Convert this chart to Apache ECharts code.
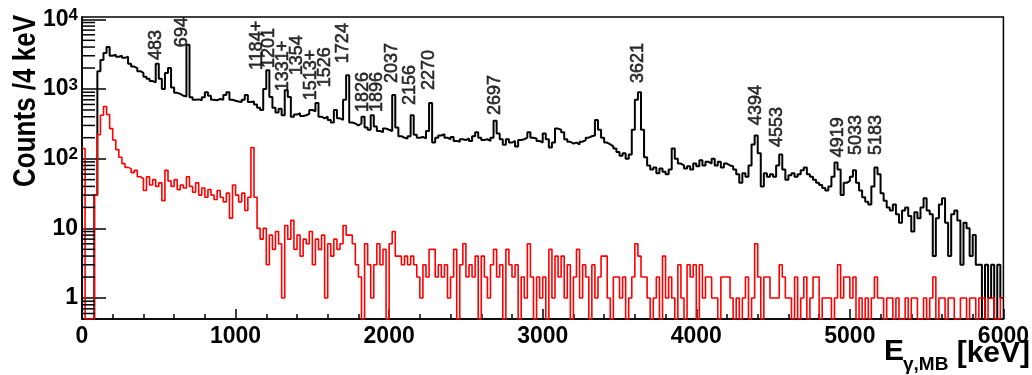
<!DOCTYPE html>
<html><head><meta charset="utf-8">
<script src="https://cdn.jsdelivr.net/npm/echarts@6/dist/echarts.min.js"></script>
<style>html,body{margin:0;padding:0;background:#fff}#c{width:1032px;height:375px}</style>
</head><body><div id="c"></div>
<script>
// ---- data ----
const binWidth = 20; // keV per stored bin (low edge = index*binWidth)
const blackCounts = [
0,0,0,0,30,1800,2600,3300,4000,3000,3100,2900,3000,2800,2900,2300,2100,2000,1800,1700,
1500,1400,1300,1250,2300,1400,1000,1700,2000,1050,880,850,800,780,4300,760,700,710,690,760,
900,800,700,690,720,700,820,900,700,680,660,650,700,820,650,660,600,540,500,1000,
1860,770,540,460,520,420,960,770,400,430,450,410,420,440,500,480,630,400,380,400,
360,330,500,380,360,700,1580,330,320,300,320,400,280,260,420,290,250,240,270,260,
250,820,280,210,200,195,210,420,220,200,205,195,250,630,170,200,215,225,200,190,
205,180,175,190,185,195,180,210,240,200,185,190,180,200,350,230,190,158,190,170,
180,150,185,190,200,240,200,195,180,170,230,190,145,170,270,260,240,190,175,165,
170,160,175,185,200,210,215,360,260,200,170,160,150,140,125,110,120,100,115,260,
700,900,260,105,80,70,75,62,72,65,60,70,140,100,85,80,72,78,70,85,
78,95,80,90,85,100,80,90,75,85,80,78,70,60,45,62,55,80,160,215,
120,40,62,55,60,55,80,115,70,50,58,62,55,60,68,75,60,55,50,45,
42,38,35,40,55,88,70,30,45,48,55,68,45,35,28,24,22,40,75,60,
32,25,20,18,22,16,12,18,20,15,9,17,14,20,27,18,16,4,14,22,
27,12,4,16,18,13,3,12,10,4,8,3,3,0,3,1,3,0,3,1
];
const redCounts = [
140,0,0,0,30,220,420,560,430,270,185,135,105,85,75,72,63,68,55,52,
35,55,42,50,40,45,25,68,48,40,50,36,42,38,55,40,33,45,30,38,
28,36,30,26,35,28,24,32,14,42,30,24,32,18,28,145,28,10,7,10,
3,8,5,9,6,1,11,7,13,5,8,4,7,6,9,3,7,5,8,1,
6,4,7,5,6,11,8,8,6,3,2,0,6,3,1,3,6,3,5,0,
6,9,4,4,3,4,3,4,3,2,1,3,2,5,5,2,3,2,3,1,
2,5,0,3,6,2,3,2,4,0,4,2,1,3,5,2,3,0,5,3,
2,3,0,2,1,6,2,0,2,1,2,0,5,1,4,2,4,1,3,0,
2,5,1,3,2,0,3,1,2,4,4,1,0,2,2,1,2,0,1,2,
6,4,2,2,1,0,1,2,0,4,1,2,1,0,3,1,0,3,2,3,
0,3,1,2,2,1,1,0,2,2,2,1,0,1,0,1,2,0,1,6,
2,0,2,2,1,1,1,3,2,1,1,0,2,0,1,2,0,1,2,2,
0,1,1,1,0,1,3,1,2,2,1,2,0,1,0,1,0,1,2,1,
1,0,1,1,0,1,0,0,1,0,1,1,0,0,1,0,1,2,0,1,
1,0,1,1,0,0,1,1,0,1,1,0,1,1,0,1,1,0,0,1
];
const peakNames = ['483','694','1184+','1201','1331+','1354','1513+','1526','1724','1826','1896','2037','2156','2270','2697','3621','4394','4553','4919','5033','5183'];
// label anchor (bottom of rotated text) in data coordinates
const peakLabelE = [481,650,1140,1215,1306,1398,1489,1580,1703,1827,1918,2022,2139,2262,2691,3621,4388,4524,4921,5038,5168];
const peakLabelY = [2600,3990,1870,1995,930,1580,690,1060,2350,466,466,1216,587,964,422,1216,303,147,105,113,113];
const xTickLabels = ['0','1000','2000','3000','4000','5000','6000'];
const yTickValues = [1,10,100,1000,10000];
const yTickLabels = ['1','10','10{s|2}','10{s|3}','10{s|4}'];
const yMinorTicks = [0.6,0.7,0.8,0.9,2,3,4,5,6,7,8,9,20,30,40,50,60,70,80,90,200,300,400,500,600,700,800,900,2000,3000,4000,5000,6000,7000,8000,9000];

// ---- chart ----
const Y_MIN = 0.5, Y_MAX = 10800, X_MAX = 6000;
function toSteps(counts){
  const pts = counts.map((c,i)=>[i*binWidth, c>0?c:Y_MIN]);
  pts.push([X_MAX, pts[pts.length-1][1]]);
  return pts;
}
const FONT = '"Liberation Sans", Arial, Helvetica, sans-serif';
const chart = echarts.init(document.getElementById('c'), null, {renderer:'canvas'});
chart.setOption({
  animation:false,
  backgroundColor:'#fff',
  grid:{left:82,right:27,top:17,bottom:56,show:true,borderColor:'#000',borderWidth:1.5,containLabel:false},
  xAxis:{type:'value',min:0,max:X_MAX,interval:1000,
    axisLine:{show:true,onZero:false,lineStyle:{color:'#000',width:1.5}},
    axisTick:{show:true,inside:true,length:10,lineStyle:{color:'#000',width:1.5}},
    minorTick:{show:true,splitNumber:5,length:5,lineStyle:{color:'#000',width:1.5}},
    splitLine:{show:false},
    axisLabel:{color:'#000',fontFamily:FONT,fontWeight:'bold',fontSize:23,margin:6,
      formatter:(v)=>xTickLabels[Math.round(v/1000)]}
  },
  yAxis:{type:'log',logBase:10,min:Y_MIN,max:Y_MAX,
    axisLine:{show:true,lineStyle:{color:'#000',width:1.5}},
    axisTick:{show:true,inside:true,length:24,lineStyle:{color:'#000',width:1.5}},
    splitLine:{show:false},
    axisLabel:{color:'#000',fontFamily:FONT,fontWeight:'bold',fontSize:23,margin:4,
      showMinLabel:false,showMaxLabel:false,
      formatter:(v)=>{const k=yTickValues.findIndex(t=>Math.abs(t-v)/t<1e-6);return k<0?'':yTickLabels[k];},
      rich:{s:{fontFamily:FONT,fontWeight:'bold',fontSize:17,color:'#000',verticalAlign:'top',padding:[0,0,8,0]}}
    }
  },
  series:[
    {type:'line',name:'all',step:'end',symbol:'none',data:toSteps(blackCounts),
      lineStyle:{color:'#000',width:2},itemStyle:{color:'#000'},z:3},
    {type:'line',name:'gated',step:'end',symbol:'none',data:toSteps(redCounts),
      lineStyle:{color:'#ff0000',width:1.6},itemStyle:{color:'#ff0000'},z:4},
    {type:'custom',name:'yminor',z:5,silent:true,clip:false,
      encode:{x:0,y:1},
      data:yMinorTicks.map(v=>[0,v]),
      renderItem:function(params,api){const p=api.coord([0,api.value(1)]);
        return {type:'line',shape:{x1:p[0],y1:p[1],x2:p[0]+13,y2:p[1]},style:{stroke:'#000',lineWidth:1.5,fill:null}};}
    },
    {type:'scatter',name:'labels',z:6,silent:true,symbol:'circle',symbolSize:1,
      data:peakNames.map((n,i)=>({name:n,value:[peakLabelE[i],peakLabelY[i]]})),
      itemStyle:{color:'rgba(0,0,0,0)'},
      label:{show:true,formatter:'{b}',position:'inside',rotate:90,align:'left',verticalAlign:'middle',
        color:'#000',fontFamily:FONT,fontSize:18,textBorderColor:'#000',textBorderWidth:0.6}
    }
  ],
  graphic:[
    {type:'text',x:27,y:15,rotation:Math.PI/2,scaleY:1.18,
      style:{text:'Counts /4 keV',font:'bold 26px '+FONT,fill:'#000',textAlign:'right',textVerticalAlign:'middle'}},
    {type:'text',x:884,y:367,
      style:{text:'E',font:'bold 30px '+FONT,fill:'#000',textAlign:'left',textVerticalAlign:'bottom'}},
    {type:'text',x:903,y:374,
      style:{text:'γ,MB',font:'bold 19px '+FONT,fill:'#000',textAlign:'left',textVerticalAlign:'bottom'}},
    {type:'text',x:1030,y:369,
      style:{text:'[keV]',font:'bold 30px '+FONT,fill:'#000',textAlign:'right',textVerticalAlign:'bottom'}}
  ]
});
</script></body></html>
